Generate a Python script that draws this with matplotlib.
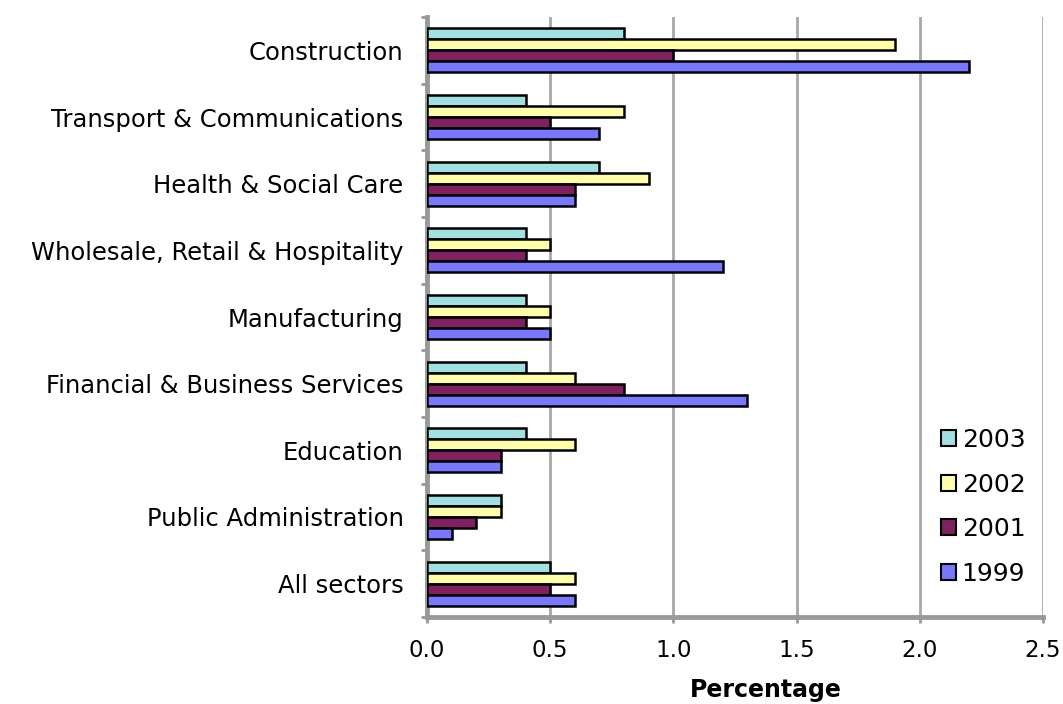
import matplotlib
matplotlib.use("Agg")
import matplotlib.pyplot as plt
import numpy as np

categories = ["Construction", "Transport & Communications", "Health & Social Care",
              "Wholesale, Retail & Hospitality", "Manufacturing",
              "Financial & Business Services", "Education",
              "Public Administration", "All sectors"]
series_names = ["2003", "2002", "2001", "1999"]
v2003 = [0.8, 0.4, 0.7, 0.4, 0.4, 0.4, 0.4, 0.3, 0.5]
v2002 = [1.9, 0.8, 0.9, 0.5, 0.5, 0.6, 0.6, 0.3, 0.6]
v2001 = [1.0, 0.5, 0.6, 0.4, 0.4, 0.8, 0.3, 0.2, 0.5]
v1999 = [2.2, 0.7, 0.6, 1.2, 0.5, 1.3, 0.3, 0.1, 0.6]
series_values = [v2003, v2002, v2001, v1999]
colors = ["#A0E0E0", "#FFFFAA", "#802060", "#7878FF"]
xticks = [0.0, 0.5, 1.0, 1.5, 2.0, 2.5]

plt.rcParams['font.family'] = ['DejaVu Sans']

fig = plt.figure(figsize=(10.63, 7.04), dpi=100)
ax = fig.add_axes([427/1063, 1 - 617/704, (1043-427)/1063, (617-17)/704])

n = len(categories)
y = np.arange(n)
h = 0.165
offsets = [-1.5*h, -0.5*h, 0.5*h, 1.5*h]
for vals, name, c, off in zip(series_values, series_names, colors, offsets):
    ax.barh(y + off, vals, height=h, color=c, edgecolor="black", linewidth=1.8,
            label=name, zorder=3)

ax.set_ylim(n - 0.5, -0.5)
ax.set_xlim(0, 2.5)
ax.set_xticks(xticks)
ax.set_xticklabels([f"{t:.1f}" for t in xticks], fontsize=16.5)
ax.set_yticks(y)
ax.set_yticklabels(categories, fontsize=17.5)
ax.set_yticks(np.arange(-0.5, n, 1.0), minor=True)
ax.tick_params(axis='y', which='major', length=0, pad=17)
ax.tick_params(axis='y', which='minor', length=4.5, width=2, color="#999999", direction='out')
ax.tick_params(axis='x', which='major', length=4.5, width=2, color="#999999", pad=11)

ax.grid(axis='x', color="#A8A8A8", linewidth=2, zorder=0)
for s in ["top", "right"]:
    ax.spines[s].set_visible(False)
for s in ["left", "bottom"]:
    ax.spines[s].set_color("#999999")
    ax.spines[s].set_linewidth(3.5)

ax.set_xlabel("Percentage", fontsize=17, fontweight="bold", labelpad=13)
ax.xaxis.set_label_coords(0.55, -0.1, transform=ax.transAxes)
ax.xaxis.label.set_verticalalignment('center')
ax.xaxis.set_label_coords(0.55, -(690-617)/600)

leg = ax.legend(loc="lower right", bbox_to_anchor=(1.0, 0.023), frameon=False,
                fontsize=18, handlelength=0.6, handleheight=0.6, handletextpad=0.25,
                labelspacing=0.82, borderpad=0.2)
for p in leg.get_patches():
    p.set_linewidth(1.5)

fig.savefig("out.png", dpi=100, facecolor="white")
